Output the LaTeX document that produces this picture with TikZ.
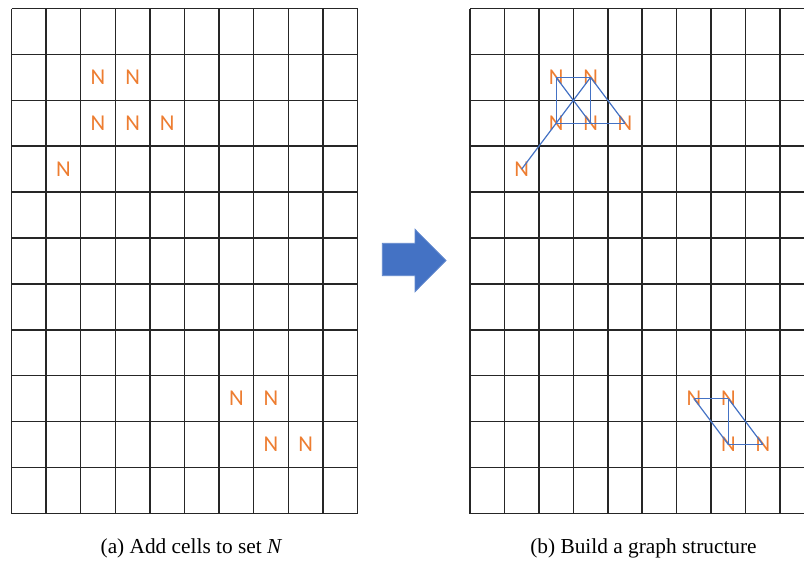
\documentclass[tikz,border=0pt]{standalone}
\usepackage{fontspec}
\setmainfont{Liberation Serif}
\newfontfamily\cellfont{Carlito}
\definecolor{officeblue}{RGB}{68,114,196}
\definecolor{officeorange}{RGB}{237,125,49}

\begin{document}
\begin{tikzpicture}[
    x=0.75pt, y=-0.75pt,
    gridline/.style={line width=1.15pt, black!85},
    cell/.style={font=\cellfont\fontsize{17}{17}\selectfont, text=officeorange, inner sep=0pt},
    link/.style={officeblue, line width=0.9pt},
    caption/.style={font=\fontsize{16}{18}\selectfont, inner sep=0pt}
]
\useasboundingbox (0,0) rectangle (804,562);

% left grid (a)
\foreach \i in {0,...,10}
    \draw[gridline] ({11.5+34.6*\i}, 8.5) -- ({11.5+34.6*\i}, 513.5);
\foreach \j in {0,...,11}
    \draw[gridline] (11.5, {8.5+45.9*\j}) -- (357.5, {8.5+45.9*\j});

% right grid (b), runs past the right edge
\foreach \i in {0,...,9}
    \draw[gridline] ({470+34.45*\i}, 8.5) -- ({470+34.45*\i}, 513.5);
\foreach \j in {0,...,11}
    \draw[gridline] (470, {8.5+45.9*\j}) -- (804, {8.5+45.9*\j});

% cells in set N
\foreach \c/\r in {2/1, 3/1, 2/2, 3/2, 4/2, 1/3, 6/8, 7/8, 7/9, 8/9} {
    \node[cell] (a-\c-\r) at ({11.5+34.6*(\c+0.5)}, {8.5+45.9*(\r+0.5)}) {N};
    \node[cell] (b-\c-\r) at ({470+34.45*(\c+0.5)}, {8.5+45.9*(\r+0.5)}) {N};
}

% graph edges
\foreach \p/\q in {2-1/3-1, 2-1/2-2, 3-1/3-2, 2-2/3-2, 3-2/4-2, 2-1/3-2, 3-1/2-2,
                   2-2/1-3, 3-1/4-2, 6-8/7-8, 7-8/7-9, 7-9/8-9, 6-8/7-9, 7-8/8-9}
    \draw[link] (b-\p.center) -- (b-\q.center);

% block arrow
\fill[officeblue, draw=officeblue!85!white, line width=0.6pt]
    (382.3,243.3) -- (415,243.3) -- (415,229.3) -- (446,260.5)
    -- (415,291.7) -- (415,275.7) -- (382.3,275.7) -- cycle;

% captions
\node[caption] (capa) at (191.5,548) {(a) Add cells to set \textit{N}};
\node[caption] (capb) at (643.5,548) {(b) Build a graph structure};
\end{tikzpicture}
\end{document}
